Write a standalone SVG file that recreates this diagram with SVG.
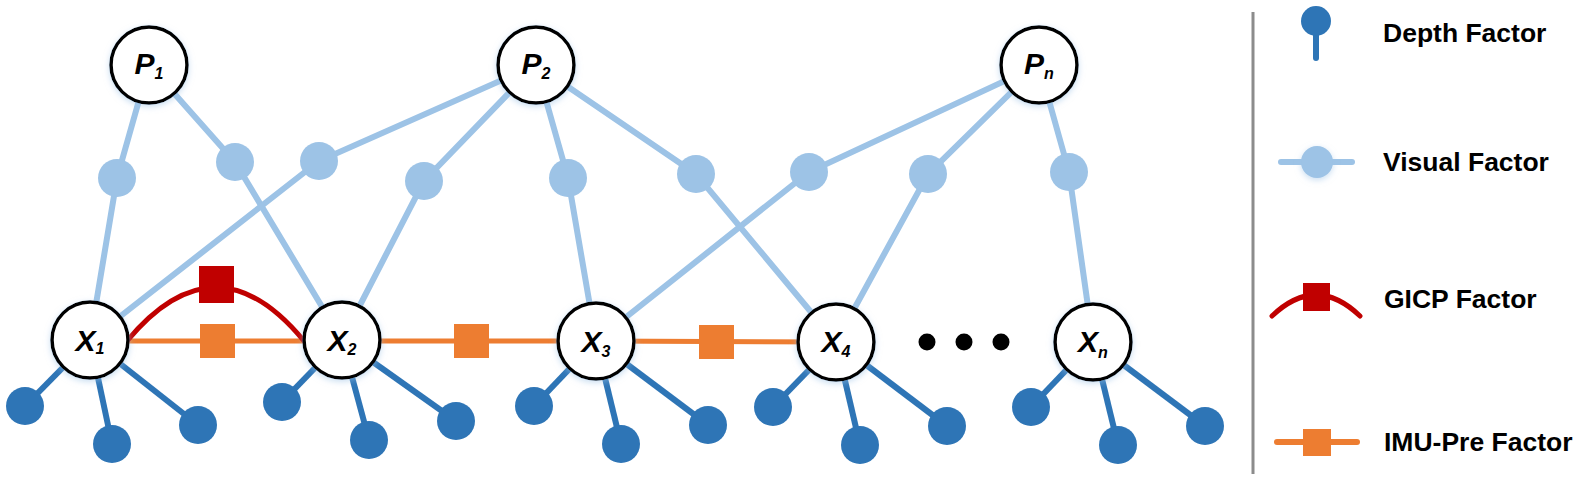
<svg xmlns="http://www.w3.org/2000/svg" width="1588" height="477" viewBox="0 0 1588 477">
<defs>
<filter id="glow" x="-30%" y="-30%" width="160%" height="160%">
<feDropShadow dx="0" dy="2" stdDeviation="3" flood-color="#9DC3E6" flood-opacity="0.55"/>
</filter>
<style>
.vl{stroke:#9DC3E6;stroke-width:6;fill:none}
.dl{stroke:#2E75B6;stroke-width:6;fill:none}
.il{stroke:#ED7D31;stroke-width:5;fill:none}
.gl{stroke:#C00000;stroke-width:5;fill:none;stroke-linecap:round}
.vf{fill:#9DC3E6}
.df{fill:#2E75B6}
.isq{fill:#ED7D31}
.gsq{fill:#C00000}
.var{fill:#ffffff;stroke:#000000;stroke-width:3.5;filter:url(#glow)}
.lbl{font-family:"Liberation Sans",Arial,sans-serif;font-weight:bold;font-style:italic;fill:#000;font-size:30px}
.sub{font-size:16px}
.leg{font-family:"Liberation Sans",Arial,sans-serif;font-weight:bold;fill:#000;font-size:26.5px}
</style>
</defs>
<rect width="1588" height="477" fill="#ffffff"/>

<g id="connectors">
<polyline class="vl" points="149,65 117,178 90,340"/>
<polyline class="vl" points="149,65 235,162 342,340"/>
<polyline class="vl" points="536,65 319,161 90,340"/>
<polyline class="vl" points="536,65 424,181 342,340"/>
<polyline class="vl" points="536,65 568,178 596,341"/>
<polyline class="vl" points="536,65 696,174 836,342"/>
<polyline class="vl" points="1039,65 809,172 596,341"/>
<polyline class="vl" points="1039,65 928,174 836,342"/>
<polyline class="vl" points="1039,65 1069,172 1093,342"/>
<line class="dl" x1="90" y1="340" x2="25" y2="406"/>
<line class="dl" x1="90" y1="340" x2="112" y2="444"/>
<line class="dl" x1="90" y1="340" x2="198" y2="425"/>
<line class="dl" x1="342" y1="340" x2="282" y2="402"/>
<line class="dl" x1="342" y1="340" x2="369" y2="440"/>
<line class="dl" x1="342" y1="340" x2="456" y2="421"/>
<line class="dl" x1="596" y1="341" x2="534" y2="406"/>
<line class="dl" x1="596" y1="341" x2="621" y2="444"/>
<line class="dl" x1="596" y1="341" x2="708" y2="425"/>
<line class="dl" x1="836" y1="342" x2="773" y2="407"/>
<line class="dl" x1="836" y1="342" x2="860" y2="445"/>
<line class="dl" x1="836" y1="342" x2="947" y2="426"/>
<line class="dl" x1="1093" y1="342" x2="1031" y2="407"/>
<line class="dl" x1="1093" y1="342" x2="1118" y2="445"/>
<line class="dl" x1="1093" y1="342" x2="1205" y2="426"/>
<line class="il" x1="90" y1="341" x2="342" y2="341"/>
<line class="il" x1="342" y1="341" x2="596" y2="341"/>
<line class="il" x1="596" y1="341" x2="836" y2="342"/>
<path class="gl" d="M127,341 Q216,234 304,341"/>
</g>

<g id="visual-factors">
<circle id="vf1" class="vf" cx="117" cy="178" r="19"/>
<circle id="vf2" class="vf" cx="235" cy="162" r="19"/>
<circle id="vf3" class="vf" cx="319" cy="161" r="19"/>
<circle id="vf4" class="vf" cx="424" cy="181" r="19"/>
<circle id="vf5" class="vf" cx="568" cy="178" r="19"/>
<circle id="vf6" class="vf" cx="696" cy="174" r="19"/>
<circle id="vf7" class="vf" cx="809" cy="172" r="19"/>
<circle id="vf8" class="vf" cx="928" cy="174" r="19"/>
<circle id="vf9" class="vf" cx="1069" cy="172" r="19"/>
</g>

<g id="depth-factors">
<circle class="df" cx="25" cy="406" r="19"/>
<circle class="df" cx="112" cy="444" r="19"/>
<circle class="df" cx="198" cy="425" r="19"/>
<circle class="df" cx="282" cy="402" r="19"/>
<circle class="df" cx="369" cy="440" r="19"/>
<circle class="df" cx="456" cy="421" r="19"/>
<circle class="df" cx="534" cy="406" r="19"/>
<circle class="df" cx="621" cy="444" r="19"/>
<circle class="df" cx="708" cy="425" r="19"/>
<circle class="df" cx="773" cy="407" r="19"/>
<circle class="df" cx="860" cy="445" r="19"/>
<circle class="df" cx="947" cy="426" r="19"/>
<circle class="df" cx="1031" cy="407" r="19"/>
<circle class="df" cx="1118" cy="445" r="19"/>
<circle class="df" cx="1205" cy="426" r="19"/>
</g>

<g id="imu-factors">
<rect class="isq" x="200" y="324" width="35" height="34"/>
<rect class="isq" x="454" y="324" width="35" height="34"/>
<rect class="isq" x="699" y="325" width="35" height="34"/>
</g>

<g id="gicp-factor">
<rect class="gsq" x="199" y="266" width="35" height="37"/>
</g>

<g id="node-P1"><circle class="var" cx="149" cy="65" r="38"/><text class="lbl" x="149" y="74" text-anchor="middle">P<tspan class="sub" dy="5">1</tspan></text></g>
<g id="node-P2"><circle class="var" cx="536" cy="65" r="38"/><text class="lbl" x="536" y="74" text-anchor="middle">P<tspan class="sub" dy="5">2</tspan></text></g>
<g id="node-Pn"><circle class="var" cx="1039" cy="65" r="38"/><text class="lbl" x="1039" y="74" text-anchor="middle">P<tspan class="sub" dy="5">n</tspan></text></g>
<g id="node-X1"><circle class="var" cx="90" cy="340" r="38"/><text class="lbl" x="90" y="351" text-anchor="middle">X<tspan class="sub" dy="3">1</tspan></text></g>
<g id="node-X2"><circle class="var" cx="342" cy="340" r="38"/><text class="lbl" x="342" y="351" text-anchor="middle">X<tspan class="sub" dy="4">2</tspan></text></g>
<g id="node-X3"><circle class="var" cx="596" cy="341" r="38"/><text class="lbl" x="596" y="352" text-anchor="middle">X<tspan class="sub" dy="5">3</tspan></text></g>
<g id="node-X4"><circle class="var" cx="836" cy="342" r="38"/><text class="lbl" x="836" y="352" text-anchor="middle">X<tspan class="sub" dy="5">4</tspan></text></g>
<g id="node-Xn"><circle class="var" cx="1093" cy="342" r="38"/><text class="lbl" x="1093" y="352" text-anchor="middle">X<tspan class="sub" dy="6">n</tspan></text></g>

<g id="ellipsis">
<circle cx="927" cy="342" r="8.5" fill="#000"/>
<circle cx="964" cy="342" r="8.5" fill="#000"/>
<circle cx="1001" cy="342" r="8.5" fill="#000"/>
</g>

<g id="legend">
<line x1="1253" y1="12" x2="1253" y2="474" stroke="#8C8C8C" stroke-width="3"/>
<g id="legend-depth">
<line x1="1316" y1="21" x2="1316" y2="58" stroke="#2E75B6" stroke-width="6" stroke-linecap="round"/>
<circle cx="1316" cy="21" r="15" fill="#2E75B6"/>
<text class="leg" x="1383" y="42">Depth Factor</text>
</g>
<g id="legend-visual">
<line x1="1281" y1="162" x2="1352" y2="162" stroke="#9DC3E6" stroke-width="6" stroke-linecap="round"/>
<circle cx="1317" cy="162" r="16" fill="#9DC3E6" filter="url(#glow)"/>
<text class="leg" x="1383" y="171">Visual Factor</text>
</g>
<g id="legend-gicp">
<path d="M1272,316 Q1316,274 1360,316" stroke="#C00000" stroke-width="5" fill="none" stroke-linecap="round"/>
<rect x="1303" y="283" width="27" height="28" fill="#C00000"/>
<text class="leg" x="1384" y="308">GICP Factor</text>
</g>
<g id="legend-imu">
<line x1="1277" y1="442" x2="1357" y2="442" stroke="#ED7D31" stroke-width="6" stroke-linecap="round"/>
<rect x="1303" y="429" width="28" height="27" fill="#ED7D31"/>
<text class="leg" x="1384" y="451">IMU-Pre Factor</text>
</g>
</g>
</svg>
